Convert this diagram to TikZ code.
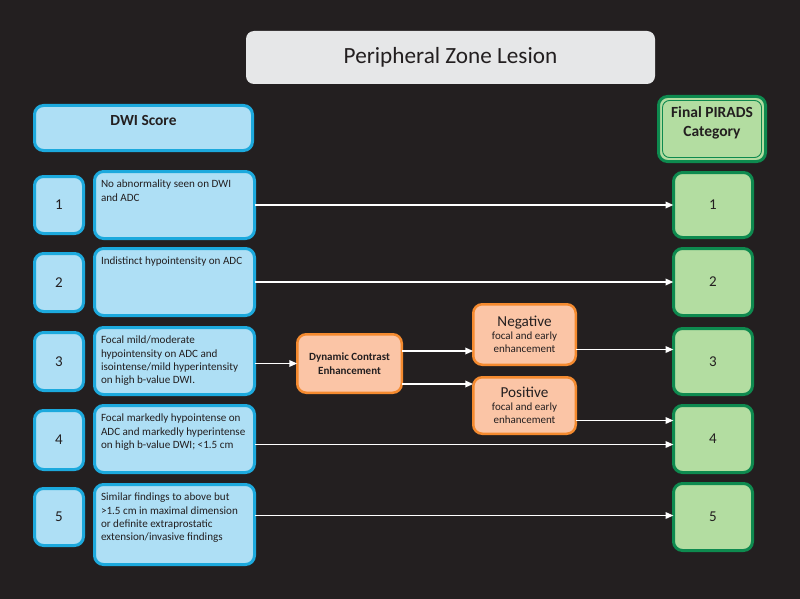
\documentclass[tikz,border=0pt]{standalone}
\usepackage{fontspec}
\setmainfont{Carlito}
\usetikzlibrary{arrows.meta}
\definecolor{bgc}{HTML}{231F20}
\definecolor{txt}{HTML}{231F20}
\definecolor{bluefill}{HTML}{AEDFF5}
\definecolor{blueline}{HTML}{1CA9DD}
\definecolor{greenfill}{HTML}{B3DDA1}
\definecolor{greenline}{HTML}{0E8A4F}
\definecolor{orfill}{HTML}{FBC5A6}
\definecolor{orline}{HTML}{F48A2F}
\definecolor{greyfill}{HTML}{E6E7E8}
\begin{document}
\begin{tikzpicture}[x=1pt,y=-1pt,
  every node/.style={text=txt, outer sep=0pt},
  bluebox/.style={draw=blueline, fill=bluefill, line width=3pt, rounded corners=9pt, inner sep=0pt},
  greenbox/.style={draw=greenline, fill=greenfill, line width=3pt, rounded corners=9pt, inner sep=0pt, font=\fontsize{15}{18}\selectfont},
  orbox/.style={draw=orline, fill=orfill, line width=2.5pt, rounded corners=9pt, inner sep=0pt},
  numbox/.style={bluebox, minimum width=49pt, font=\fontsize{15}{18}\selectfont},
  descbox/.style={bluebox, minimum width=160pt},
  desctext/.style={anchor=north west, inner sep=0pt, align=left, font=\fontsize{11.1}{13.3}\selectfont},
  arr/.style={draw=white, line width=1.8pt, -{Triangle[length=8pt,width=6.5pt]}}
]
\fill[bgc] (0,0) rectangle (800,599);
\useasboundingbox (0,0) rectangle (800,599);

% title
\node[fill=greyfill, rounded corners=8pt, minimum width=409pt, minimum height=53pt, inner sep=0pt,
  font=\fontsize{23.2}{28}\selectfont] (title) at (450.5,57.5) {Peripheral Zone Lesion};

% DWI score header
\node[bluebox, minimum width=218pt, minimum height=45pt] (dwi) at (143.5,128) {};
\node[anchor=north, inner sep=0pt, font=\bfseries\fontsize{15.4}{19}\selectfont] (dwit) at ([yshift=-9.5pt]dwi.north) {DWI Score};

% Final PIRADS header
\node[greenbox, minimum width=107pt, minimum height=65pt] (fin) at (712,129) {};
\draw[greenline, line width=0.9pt, rounded corners=7pt] ([xshift=4pt,yshift=-4pt]fin.north west) rectangle ([xshift=-4pt,yshift=4pt]fin.south east);
\node[anchor=north, inner sep=0pt, align=center, font=\bfseries\fontsize{15.5}{19}\selectfont] (fint) at ([yshift=-10.5pt]fin.north) {Final PIRADS\\Category};

% number boxes
\node[numbox, minimum height=57pt] (n1) at (59,205) {1};
\node[numbox, minimum height=58pt] (n2) at (59,282.5) {2};
\node[numbox, minimum height=58pt] (n3) at (59,361.5) {3};
\node[numbox, minimum height=59pt] (n4) at (59,440) {4};
\node[numbox, minimum height=57pt] (n5) at (59,517) {5};

% description boxes
\node[descbox, minimum height=67pt] (t1) at (174.5,205) {};
\node[descbox, minimum height=67pt] (t2) at (174.5,282) {};
\node[descbox, minimum height=67pt] (t3) at (174.5,361) {};
\node[descbox, minimum height=67pt] (t4) at (174.5,439) {};
\node[descbox, minimum height=80pt] (t5) at (174.5,524.5) {};

\node[desctext] (d1) at ([xshift=6.5pt,yshift=-8.5pt]t1.north west) {No abnormality seen on DWI\\and ADC};
\node[desctext] (d2) at ([xshift=6.5pt,yshift=-8.5pt]t2.north west) {Indistinct hypointensity on ADC};
\node[desctext] (d3) at ([xshift=6.5pt,yshift=-8.5pt]t3.north west) {Focal mild/moderate\\hypointensity on ADC and\\isointense/mild hyperintensity\\on high b-value DWI.};
\node[desctext] (d4) at ([xshift=6.5pt,yshift=-8.5pt]t4.north west) {Focal markedly hypointense on\\ADC and markedly hyperintense\\on high b-value DWI; <1.5 cm};
\node[desctext] (d5) at ([xshift=6.5pt,yshift=-8.5pt]t5.north west) {Similar findings to above but\\>1.5 cm in maximal dimension\\or definite extraprostatic\\extension/invasive findings};

% right category boxes
\node[greenbox, minimum width=79pt, minimum height=65pt] (r1) at (713,205) {1};
\node[greenbox, minimum width=79pt, minimum height=67pt] (r2) at (713,282) {2};
\node[greenbox, minimum width=79pt, minimum height=66pt] (r3) at (713,361.5) {3};
\node[greenbox, minimum width=79pt, minimum height=67pt] (r4) at (713,439) {4};
\node[greenbox, minimum width=79pt, minimum height=67pt] (r5) at (713,517) {5};

% DCE and outcomes
\node[orbox, minimum width=104.5pt, minimum height=58.5pt, align=center,
  font=\bfseries\fontsize{11}{14}\selectfont] (dce) at (349.5,363.5) {Dynamic Contrast\\Enhancement};
\node[orbox, minimum width=102.5pt, minimum height=60.5pt, align=center,
  font=\fontsize{11}{13}\selectfont] (neg) at (524.5,334.5) {{\fontsize{15.2}{18}\selectfont Negative}\\focal and early\\enhancement};
\node[orbox, minimum width=102.5pt, minimum height=56.5pt, align=center,
  font=\fontsize{11}{13}\selectfont] (pos) at (524.5,405.5) {{\fontsize{15.2}{18}\selectfont Positive}\\focal and early\\enhancement};

% connectors
\draw[arr] (t1.east) -- (r1.west);
\draw[arr] (t2.east) -- (r2.west);
\draw[arr] (t3.east |- dce.west) -- (dce.west);
\draw[arr] ([yshift=12.5pt]dce.east) -- ([yshift=12.5pt]dce.east -| neg.west);
\draw[arr] ([yshift=-20.5pt]dce.east) -- ([yshift=-20.5pt]dce.east -| pos.west);
\draw[arr] ([yshift=-15pt]neg.east) -- ([yshift=-15pt]neg.east -| r3.west);
\draw[arr] ([yshift=-15pt]pos.east) -- ([yshift=-15pt]pos.east -| r4.west);
\draw[arr] ([yshift=-5.5pt]t4.east) -- ([yshift=-5.5pt]t4.east -| r4.west);
\draw[arr] ([yshift=1.5pt]t5.east |- r5.west) -- ([yshift=1.5pt]r5.west);
\end{tikzpicture}
\end{document}
